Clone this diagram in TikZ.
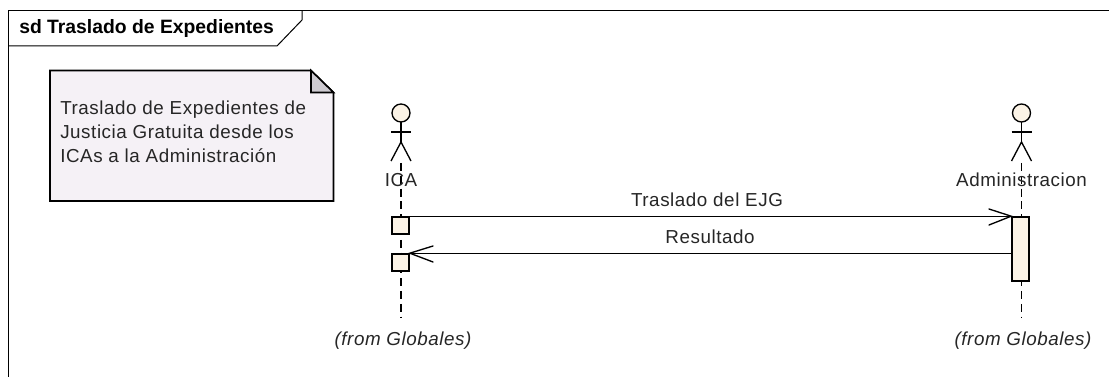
\documentclass[tikz,border=0pt]{standalone}
\usepackage{fontspec}
\setmainfont{Liberation Sans}
\definecolor{notefill}{RGB}{245,241,246}
\definecolor{foldfill}{RGB}{205,202,208}
\definecolor{actfill}{RGB}{251,243,230}
\tikzset{
  x=0.75pt,y=-0.75pt,
  lbl/.style={inner sep=0pt,anchor=base,font=\fontsize{14.1}{16}\selectfont,text=black!85},
  frm/.style={draw=black,line width=0.75pt},
  nt/.style={draw=black,line width=1.2pt},
  act/.style={draw=black,line width=1.2pt,fill=actfill,inner sep=0pt,minimum width=12.75pt},
  fig/.style={draw=black,line width=1pt},
  life/.style={draw=black,line width=1pt,dash pattern=on 6pt off 3.6pt},
  msg/.style={draw=black,line width=1pt},
  hd/.style={draw=black,line width=1pt,line cap=round}
}
\begin{document}
\begin{tikzpicture}
\useasboundingbox (0,0) rectangle (1109,377);
\fill[white] (0,0) rectangle (1109,377);
% frame
\draw[frm] (8.5,377) -- (8.5,10.5) -- (1109,10.5);
\draw[frm] (8.5,46) -- (277,46) -- (302,20) -- (302,10.5);
\node[anchor=base west,inner sep=0pt,font=\fontsize{14.5}{16}\selectfont\bfseries] (title) at (19,34) {sd Traslado de Expedientes};
% note
\draw[nt,fill=notefill] (50,70.5) -- (311,70.5) -- (333.5,92.5) -- (333.5,201) -- (50,201) -- cycle;
\draw[nt,fill=foldfill] (311,70.5) -- (333.5,92.5) -- (311,92.5) -- cycle;
\node[lbl,anchor=base west] (n1) at (60,115) {\addfontfeature{LetterSpace=3}Traslado de Expedientes de};
\node[lbl,anchor=base west] (n2) at (60,139) {\addfontfeature{LetterSpace=3}Justicia Gratuita desde los};
\node[lbl,anchor=base west] (n3) at (60,163) {\addfontfeature{LetterSpace=3}ICAs a la Administración};
% lifelines
\coordinate (ll1t) at (401,163);
\coordinate (ll1b) at (401,317);
\coordinate (ll2t) at (1021.5,163);
\coordinate (ll2b) at (1021.5,317);
\draw[life] (ll1t) -- (ll1b);
\draw[life] (ll2t) -- (ll2b);
% actors
\foreach \ax/\nm in {401/a,1021.5/b}{
  \draw[fig,fill=actfill] (\ax,113) circle[radius=6.75pt];
  \draw[fig] (\ax,122) -- (\ax,142);
  \draw[fig] (\ax-10,132) -- (\ax+10,132);
  \draw[fig] (\ax-10,161) -- (\ax,142) -- (\ax+10,161);
}
\node[lbl] (ica) at (401,187) {\addfontfeature{LetterSpace=3}ICA};
\node[lbl] (adm) at (1021.5,187) {\addfontfeature{LetterSpace=3}Administracion};
% activations
\node[act,minimum height=12.75pt] (a1) at (400.5,225.5) {};
\node[act,minimum height=12.75pt] (a2) at (400.5,262.5) {};
\node[act,minimum height=48pt] (b1) at (1020.5,249) {};
% messages
\draw[msg] (a1.north east) -- (b1.north west);
\draw[msg] (b1.west |- a2.north) -- (a2.north east);
\draw[hd] (989,209) -- (b1.north west) -- (989,225);
\draw[hd] (433,246) -- (a2.north east) -- (433,262);
\node[lbl] (m1) at (707,207) {\addfontfeature{LetterSpace=3}Traslado del EJG};
\node[lbl] (m2) at (710,244) {\addfontfeature{LetterSpace=3}Resultado};
\node[lbl,font=\fontsize{14.1}{16}\selectfont\itshape] (f1) at (403,345) {\addfontfeature{LetterSpace=3}(from Globales)};
\node[lbl,font=\fontsize{14.1}{16}\selectfont\itshape] (f2) at (1023,345) {\addfontfeature{LetterSpace=3}(from Globales)};
\end{tikzpicture}
\end{document}
